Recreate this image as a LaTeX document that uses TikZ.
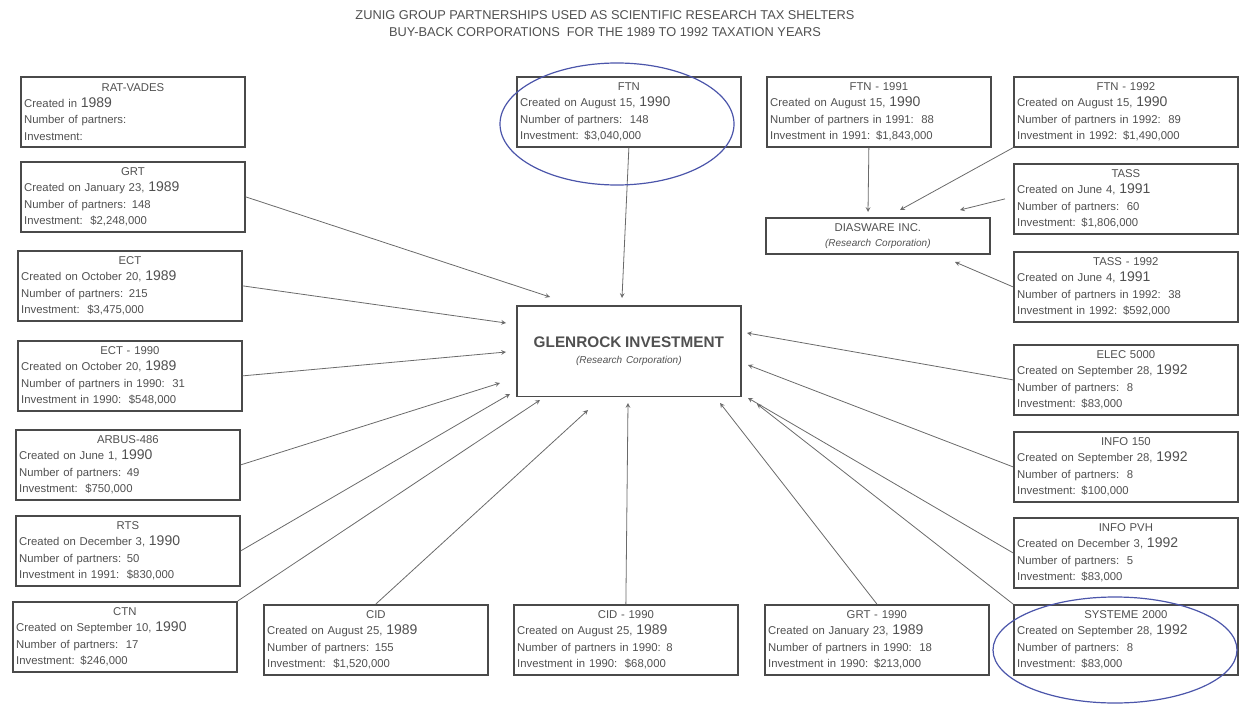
\documentclass[tikz,border=0pt]{standalone}
\usepackage{fontspec}
\setmainfont{Liberation Sans}
\usepackage{tikz}
\usetikzlibrary{calc, arrows}
\definecolor{boxgray}{HTML}{4A4A4A}
\definecolor{textgray}{HTML}{505050}
\definecolor{linegray}{HTML}{6A6A6A}
\definecolor{penblue}{RGB}{75,85,170}
\tikzset{
	pbox/.style={draw=boxgray, line width=1.3pt, anchor=north west, text=textgray,
		minimum width=168pt, minimum height=52.5pt, text width=163pt,
		inner xsep=2pt, inner ysep=0.5pt, align=left,
		font=\fontsize{8.5}{12.3}\selectfont}
}
\tikzset{
	feed/.style={->, draw=linegray, line width=0.6pt}
}
\tikzset{
	penmark/.style={draw=penblue, line width=0.9pt}
}
\newcommand{\yr}[1]{{\fontsize{10.5}{12}\selectfont #1}}
\newcommand{\pb}[4]{\makebox[163pt][c]{#1}\\#2\\#3\\#4}

\begin{document}
\begin{tikzpicture}[>=stealth, x=0.75pt, y=-0.75pt]
      \useasboundingbox (0,0) rectangle (1241,706);
      \node[align=center, text=textgray, font=\fontsize{9.6}{12.75}\selectfont] (title) at (605,24)
        {ZUNIG GROUP PARTNERSHIPS USED AS SCIENTIFIC RESEARCH TAX SHELTERS\\
         BUY-BACK CORPORATIONS\ \ FOR THE 1989 TO 1992 TAXATION YEARS};
      % left column
      \node[pbox] (ratv) at (20,76) {\pb{RAT-VADES}{Created in \yr{1989}}{Number of partners:}{Investment:}};
      \node[pbox] (grt) at (20,161) {\pb{GRT}{Created on January 23, \yr{1989}}{Number of partners: 148}{Investment:\ \ \$2,248,000}};
      \node[pbox] (ect) at (17,250) {\pb{ECT}{Created on October 20, \yr{1989}}{Number of partners: 215}{Investment:\ \ \$3,475,000}};
      \node[pbox] (ect90) at (17,340) {\pb{ECT - 1990}{Created on October 20, \yr{1989}}{Number of partners in 1990:\ \ 31}{Investment in 1990:\ \ \$548,000}};
      \node[pbox] (arbus) at (15,429) {\pb{ARBUS-486}{Created on June 1, \yr{1990}}{Number of partners: 49}{Investment:\ \ \$750,000}};
      \node[pbox] (rts) at (15,515) {\pb{RTS}{Created on December 3, \yr{1990}}{Number of partners: 50}{Investment in 1991:\ \ \$830,000}};
      \node[pbox] (ctn) at (12,601) {\pb{CTN}{Created on September 10, \yr{1990}}{Number of partners:\ \ 17}{Investment: \$246,000}};
      % bottom row
      \node[pbox] (cid) at (263,604) {\pb{CID}{Created on August 25, \yr{1989}}{Number of partners: 155}{Investment:\ \ \$1,520,000}};
      \node[pbox] (cid90) at (513,604) {\pb{CID - 1990}{Created on August 25, \yr{1989}}{Number of partners in 1990: 8}{Investment in 1990:\ \ \$68,000}};
      \node[pbox] (grt90) at (764,604) {\pb{GRT - 1990}{Created on January 23, \yr{1989}}{Number of partners in 1990:\ \ 18}{Investment in 1990: \$213,000}};
      \node[pbox] (sys) at (1013,604) {\pb{SYSTEME 2000}{Created on September 28, \yr{1992}}{Number of partners:\ \ 8}{Investment: \$83,000}};
      % top row
      \node[pbox] (ftn) at (516,76) {\pb{FTN}{Created on August 15, \yr{1990}}{Number of partners:\ \ 148}{Investment: \$3,040,000}};
      \node[pbox] (ftn91) at (766,76) {\pb{FTN - 1991}{Created on August 15, \yr{1990}}{Number of partners in 1991:\ \ 88}{Investment in 1991: \$1,843,000}};
      \node[pbox] (ftn92) at (1013,76) {\pb{FTN - 1992}{Created on August 15, \yr{1990}}{Number of partners in 1992:\ \ 89}{Investment in 1992: \$1,490,000}};
      % right column
      \node[pbox] (tass) at (1013,163) {\pb{TASS}{Created on June 4, \yr{1991}}{Number of partners:\ \ 60}{Investment: \$1,806,000}};
      \node[pbox] (tass92) at (1013,251) {\pb{TASS - 1992}{Created on June 4, \yr{1991}}{Number of partners in 1992:\ \ 38}{Investment in 1992: \$592,000}};
      \node[pbox] (elec) at (1013,344) {\pb{ELEC 5000}{Created on September 28, \yr{1992}}{Number of partners:\ \ 8}{Investment: \$83,000}};
      \node[pbox] (info150) at (1013,431) {\pb{INFO 150}{Created on September 28, \yr{1992}}{Number of partners:\ \ 8}{Investment: \$100,000}};
      \node[pbox] (infopvh) at (1013,517) {\pb{INFO PVH}{Created on December 3, \yr{1992}}{Number of partners:\ \ 5}{Investment: \$83,000}};
      % research corporations
      \node[pbox, minimum height=27pt, align=center] (dias) at (765,217)
        {DIASWARE INC.\\[-1pt]{\fontsize{7.5}{9}\selectfont\itshape (Research Corporation)}};
      \node[pbox, minimum height=68pt, align=center] (glen) at (516,305)
        {{\fontsize{11.5}{14}\selectfont\bfseries GLENROCK INVESTMENT}\\[-1pt]
         {\fontsize{7.5}{9}\selectfont\itshape (Research Corporation)}\\[12pt]};
      % into glenrock
      \draw[feed] (grt.east) -- ($(glen.north west)+(34,-8)$);
      \draw[feed] (ect.east) -- ($(glen.north west)+(-10,18)$);
      \draw[feed] (ect90.east) -- ($(glen.north west)+(-10,47)$);
      \draw[feed] (arbus.east) -- ($(glen.north west)+(-16,78)$);
      \draw[feed] (rts.east) -- ($(glen.north west)+(-6,89)$);
      \draw[feed] (ctn.north east) -- ($(glen.north west)+(24,95)$);
      \draw[feed] (cid.north) -- ($(glen.north west)+(72,105)$);
      \draw[feed] (cid90.north) -- ($(glen.north west)+(112,98)$);
      \draw[feed] (grt90.north) -- ($(glen.north west)+(204,98)$);
      \draw[feed] (sys.north west) -- ($(glen.north west)+(241,99)$);
      \draw[feed] (infopvh.west) -- ($(glen.north west)+(232,93)$);
      \draw[feed] (info150.west) -- ($(glen.north west)+(232,60)$);
      \draw[feed] (elec.west) -- ($(glen.north west)+(231,28)$);
      \draw[feed] (ftn.south) -- ($(glen.north west)+(106,-7)$);
      % into diasware
      \draw[feed] ($(ftn91.south)+(-10,0)$) -- ($(dias.north west)+(103,-5)$);
      \draw[feed] (ftn92.south west) -- ($(dias.north west)+(135,-7)$);
      \draw[feed] ($(tass.west)+(-8,0)$) -- ($(dias.north west)+(195,-7)$);
      \draw[feed] (tass92.west) -- ($(dias.north west)+(190,45)$);
      % pen marks
      \draw[penmark] (617,124) ellipse [x radius=117, y radius=61];
      \draw[penmark] (1115,650) ellipse [x radius=122, y radius=53];
\end{tikzpicture}
\end{document}
